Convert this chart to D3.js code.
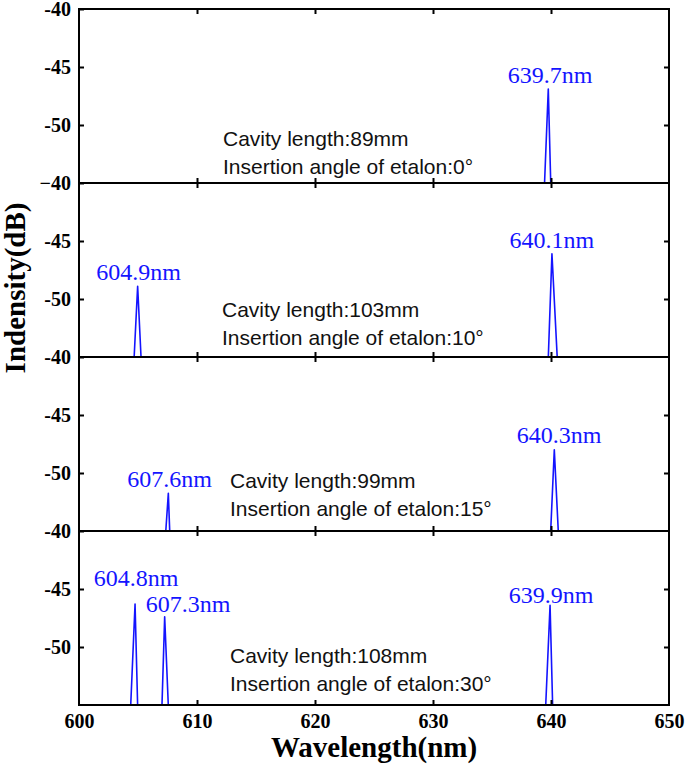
<!DOCTYPE html>
<html>
<head>
<meta charset="utf-8">
<script src="https://cdn.jsdelivr.net/npm/d3@7"></script>
<style>
  body { margin: 0; background: #fff; }
  svg { display: block; }
</style>
</head>
<body>
<script>
// values
var xTicks = [600, 610, 620, 630, 640, 650];
var yTicks = [-40, -45, -50];
var yTickLabels = [
  ["-40", "-45", "-50"],
  ["\u221240", "-45", "-50"],
  ["-40", "-45", "-50"],
  ["-40", "-45", "-50"]
];
var cavityLengths = [89, 103, 99, 108];
var etalonAngles = [0, 10, 15, 30];

// peaks per panel: centre (nm), top (dB), base left / right (nm)
var peakNm    = [[639.77], [604.97, 640.08], [607.57, 640.28], [604.75, 607.26, 639.92]];
var peakDb    = [[-46.9], [-48.9, -46.1], [-51.75, -48.0], [-46.3, -47.4, -46.4]];
var baseLeft  = [[639.45], [604.67, 639.77], [607.35, 639.97], [604.38, 607.03, 639.55]];
var baseRight = [[639.98], [605.26, 640.53], [607.69, 640.62], [604.97, 607.57, 640.14]];
var peakText  = [["639.7nm"], ["604.9nm", "640.1nm"], ["607.6nm", "640.3nm"], ["604.8nm", "607.3nm", "639.9nm"]];
// label anchors in data units (nm, dB)
var labelNm   = [[639.92], [605.04, 640.08], [607.67, 640.68], [604.83, 609.24, 640.0]];
var labelDb   = [[-46.4], [-48.4, -45.6], [-51.2, -47.4], [-44.7, -47.0, -46.2]];

var W = 685, H = 766;
var margin = {left: 79, right: 669, top: 9, bottom: 705};
var nPanels = 4;
var panelH = (margin.bottom - margin.top) / nPanels;

var svg = d3.select("body").append("svg")
  .attr("width", W)
  .attr("height", H);

var x = d3.scaleLinear().domain([600, 650]).range([margin.left, margin.right]);

var annoX = [223, 222, 230, 230];   // px, annotation text left edge
var annoY = [137, 134, 131, 132];   // px, first baseline from panel top

var line = d3.line()
  .x(function(d) { return x(d[0]); })
  .y(function(d) { return d[1]; });

function drawPanel(p) {
  var y0 = margin.top + p * panelH;
  var y = d3.scaleLinear().domain([-55, -40]).range([y0 + panelH, y0]);
  var g = svg.append("g");

  // peaks
  peakNm[p].forEach(function(c, i) {
    var pts = [[baseLeft[p][i], y(-55) + 1], [c, y(peakDb[p][i])], [baseRight[p][i], y(-55) + 1]];
    g.append("path")
      .attr("d", line(pts))
      .attr("fill", "none")
      .attr("stroke", "#1414ff")
      .attr("stroke-width", 1.6)
      .attr("stroke-linejoin", "round");
    g.append("text")
      .attr("x", x(labelNm[p][i]))
      .attr("y", y(labelDb[p][i]))
      .attr("text-anchor", "middle")
      .attr("font-family", "'Liberation Serif', 'Times New Roman', serif")
      .attr("font-size", 24)
      .attr("fill", "#1414ff")
      .text(peakText[p][i]);
  });

  // annotation
  var t = g.append("text")
    .attr("font-family", "'Liberation Sans', Arial, sans-serif")
    .attr("font-size", 21)
    .attr("fill", "#111");
  t.append("tspan").attr("x", annoX[p]).attr("y", y0 + annoY[p])
    .text("Cavity length:" + cavityLengths[p] + "mm");
  t.append("tspan").attr("x", annoX[p]).attr("y", y0 + annoY[p] + 28)
    .text("Insertion angle of etalon:" + etalonAngles[p] + "\u00b0");

  // y ticks, inward on both sides
  var yl = d3.axisLeft(y).tickValues(yTicks).tickSize(-5).tickPadding(8)
    .tickFormat(function(d, i) { return yTickLabels[p][i]; });
  var ga = g.append("g").attr("transform", "translate(" + margin.left + ",0)").call(yl);
  ga.select(".domain").remove();
  ga.selectAll("line").attr("stroke-width", 2);
  ga.selectAll("text")
    .attr("font-family", "'Liberation Serif', 'Times New Roman', serif")
    .attr("font-weight", "bold")
    .attr("font-size", 20)
    .attr("fill", "#000");

  var yr = d3.axisRight(y).tickValues([-45, -50]).tickSize(-5).tickFormat("");
  var gr = g.append("g").attr("transform", "translate(" + margin.right + ",0)").call(yr);
  gr.select(".domain").remove();
  gr.selectAll("line").attr("stroke-width", 2);

  // x ticks inward on top and bottom of each panel
  var inner = xTicks.slice(1, -1);
  var gt = g.append("g").attr("transform", "translate(0," + y(-40) + ")")
    .call(d3.axisTop(x).tickValues(inner).tickSize(-5).tickFormat(""));
  gt.select(".domain").remove();
  gt.selectAll("line").attr("stroke-width", 2);
  var gb = g.append("g").attr("transform", "translate(0," + y(-55) + ")")
    .call(d3.axisBottom(x).tickValues(inner).tickSize(-5).tickFormat(""));
  gb.select(".domain").remove();
  gb.selectAll("line").attr("stroke-width", 2);

  // panel frame
  g.append("rect")
    .attr("x", margin.left).attr("y", y0)
    .attr("width", margin.right - margin.left).attr("height", panelH)
    .attr("fill", "none")
    .attr("stroke", "#000")
    .attr("stroke-width", 2);
}

for (var p = 0; p < nPanels; p++) drawPanel(p);

// x tick labels under the last panel
var gx = svg.append("g").attr("transform", "translate(0," + margin.bottom + ")")
  .call(d3.axisBottom(x).tickValues(xTicks).tickSize(0).tickPadding(9));
gx.select(".domain").remove();
gx.selectAll("text")
  .attr("font-family", "'Liberation Serif', 'Times New Roman', serif")
  .attr("font-weight", "bold")
  .attr("font-size", 20)
  .attr("fill", "#000");

// axis titles
svg.append("text")
  .attr("x", 374)
  .attr("y", 757)
  .attr("text-anchor", "middle")
  .attr("font-family", "'Liberation Serif', 'Times New Roman', serif")
  .attr("font-weight", "bold")
  .attr("font-size", 29)
  .text("Wavelength(nm)");

svg.append("text")
  .attr("transform", "translate(25,288) rotate(-90)")
  .attr("text-anchor", "middle")
  .attr("font-family", "'Liberation Serif', 'Times New Roman', serif")
  .attr("font-weight", "bold")
  .attr("font-size", 29)
  .text("Indensity(dB)");
</script>
</body>
</html>
